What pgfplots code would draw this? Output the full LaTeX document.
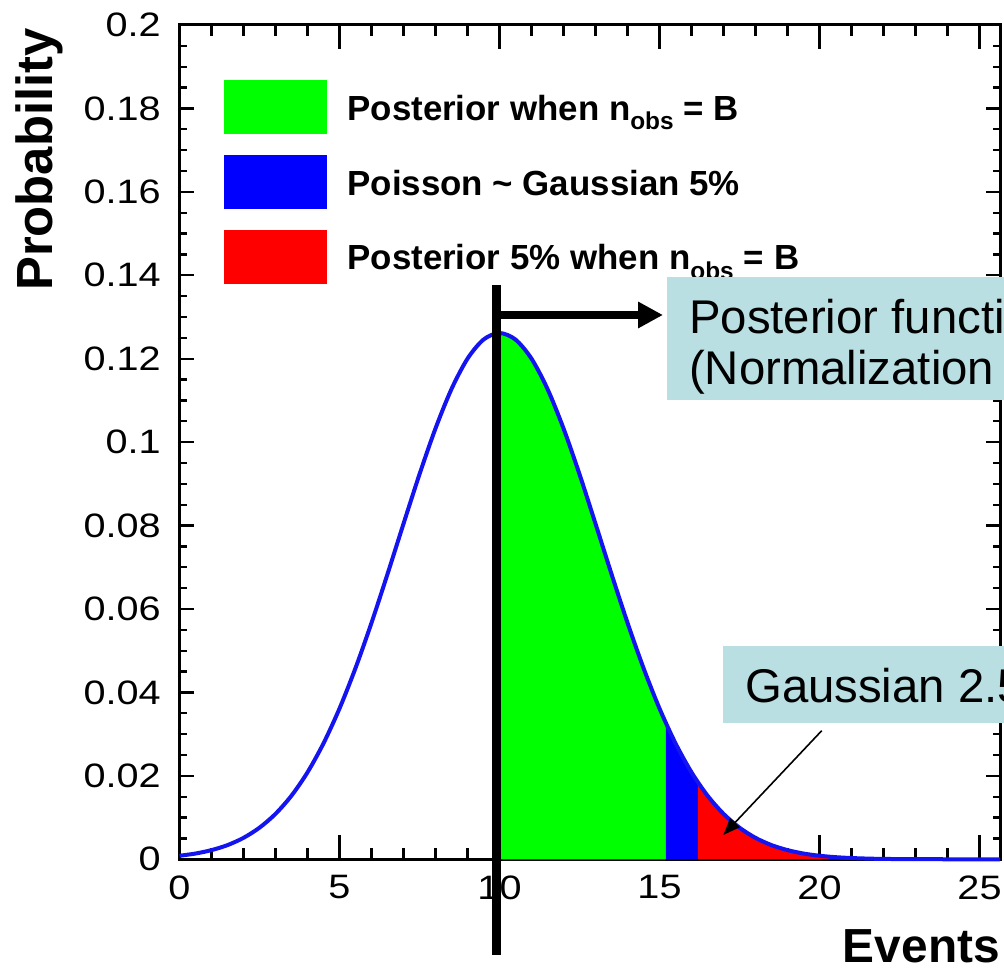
\documentclass[border=0pt]{standalone}
\usepackage{pgfplots}
\pgfplotsset{compat=1.18}
\usepackage{pgfplotstable}
\usetikzlibrary{arrows.meta}
\usepackage{fontspec}
\setmainfont{Liberation Sans}

\definecolor{postgreen}{RGB}{0,255,0}
\definecolor{poisblue}{RGB}{0,0,255}
\definecolor{tailred}{RGB}{255,0,0}
\definecolor{curveblue}{RGB}{20,20,240}
\definecolor{callout}{RGB}{186,223,227}

% posterior probability density for n_obs = B = 10
\pgfplotstableread{
x     y
0     0.00085
0.5   0.00138
1     0.00220
1.5   0.00340
2     0.00514
2.5   0.00758
3     0.01089
3.5   0.01526
4     0.02085
4.5   0.02780
5     0.03615
5.5   0.04584
6     0.05669
6.5   0.06838
7     0.08044
7.5   0.09230
8     0.10329
8.5   0.11274
9     0.12001
9.5   0.12459
10    0.12616
10.5  0.12459
11    0.12001
11.5  0.11274
12    0.10329
12.5  0.09230
13    0.08044
13.5  0.06838
14    0.05669
14.5  0.04584
15    0.03615
15.5  0.02780
16    0.02085
16.5  0.01526
17    0.01089
17.5  0.00758
18    0.00514
18.5  0.00340
19    0.00220
19.5  0.00138
20    0.00085
20.5  0.00051
21    0.00030
21.5  0.00017
22    0.00009
23    0.00003
24    0.00001
25.64 0.00000
}\posterior

% upper part of the posterior, 10 <= x <= 15.2
\pgfplotstableread{
x     y
10.0  0.12616
10.2  0.12591
10.4  0.12515
10.6  0.12391
10.8  0.12219
11.0  0.12001
11.2  0.11740
11.4  0.11438
11.6  0.11100
11.8  0.10729
12.0  0.10329
12.2  0.09904
12.4  0.09459
12.6  0.08998
12.8  0.08525
13.0  0.08044
13.2  0.07561
13.4  0.07078
13.6  0.06599
13.8  0.06129
14.0  0.05669
14.2  0.05222
14.4  0.04792
14.6  0.04379
14.8  0.03987
15.0  0.03615
15.2  0.03264
}\greenpart

% Poisson ~ Gaussian 5% band, 15.2 <= x <= 16.2
\pgfplotstableread{
x     y
15.2  0.03264
15.4  0.02936
15.6  0.02630
15.8  0.02347
16.0  0.02085
16.2  0.01846
}\bluepart

% posterior 5% tail, x >= 16.2
\pgfplotstableread{
x     y
16.2  0.01846
16.4  0.01627
16.6  0.01429
16.8  0.01250
17.0  0.01089
17.2  0.00944
17.4  0.00816
17.6  0.00703
17.8  0.00602
18.0  0.00514
18.4  0.00370
18.8  0.00263
19.2  0.00183
19.6  0.00126
20.0  0.00085
21.0  0.00030
22.0  0.00009
23.0  0.00003
25.64 0.00000
}\redpart

\newcommand\tickfont{\fontsize{34}{34}\selectfont}
\newcommand\notefont{\fontsize{47.5}{47.5}\selectfont}

\begin{document}
\begin{tikzpicture}
% canvas
\path (0bp,0bp) rectangle (1004bp,969bp);

% frame carrying the x ticks (longer ticks)
\begin{axis}[
  at={(179.5bp,109.7bp)}, anchor=south west,
  scale only axis, width=820.5bp, height=834.3bp,
  xmin=0, xmax=25.64, ymin=0, ymax=0.2,
  xtick={0,5,10,15,20,25},
  xticklabels={0,5,10,15,20,25},
  minor x tick num=4,
  ytick=\empty,
  major tick length=24bp, minor tick length=11bp,
  axis line style={line width=3bp},
  tick style={black, line width=2.2bp},
  xticklabel style={font=\tickfont, anchor=north, inner sep=0pt, yshift=-16bp, xscale=1.17},
]
\end{axis}

% main frame: y ticks, filled regions and the posterior curve
\begin{axis}[
  at={(179.5bp,109.7bp)}, anchor=south west,
  scale only axis, width=820.5bp, height=834.3bp,
  xmin=0, xmax=25.64, ymin=0, ymax=0.2,
  clip=false,
  xtick=\empty,
  ytick={0,0.02,0.04,0.06,0.08,0.1,0.12,0.14,0.16,0.18,0.2},
  yticklabels={0,0.02,0.04,0.06,0.08,0.1,0.12,0.14,0.16,0.18,0.2},
  minor y tick num=3,
  major tick length=14bp, minor tick length=7bp,
  axis line style={line width=3bp},
  tick style={black, line width=2.2bp},
  yticklabel style={font=\tickfont, anchor=east, inner sep=0pt, xshift=-18.5bp, xscale=1.17},
  legend style={at={(0.0543,0.934)}, anchor=north west, draw=none, fill=none,
    inner sep=0pt, outer sep=0pt, row sep=21.5bp,
    font=\bfseries\fontsize{35}{35}\selectfont,
    nodes={inner sep=0pt},
    /tikz/every odd column/.append style={column sep=21bp}},
  legend cell align=left,
]
\addplot[fill=postgreen, draw=none, forget plot] table[x=x,y=y] {\greenpart} \closedcycle;
\addplot[fill=poisblue, draw=none, forget plot] table[x=x,y=y] {\bluepart} \closedcycle;
\addplot[fill=tailred, draw=none, forget plot] table[x=x,y=y] {\redpart} \closedcycle;

\addplot[curveblue, line width=4bp, smooth, forget plot] table[x=x,y=y] {\posterior};

\addlegendimage{legend image code/.code={\fill[postgreen] (0bp,-25bp) rectangle (102bp,28bp);}}
\addlegendentry{Posterior when n\textsubscript{obs} = B}
\addlegendimage{legend image code/.code={\fill[poisblue] (0bp,-25bp) rectangle (102bp,28bp);}}
\addlegendentry{Poisson \textasciitilde{} Gaussian 5\%}
\addlegendimage{legend image code/.code={\fill[tailred] (0bp,-25bp) rectangle (102bp,28bp);}}
\addlegendentry{Posterior 5\% when n\textsubscript{obs} = B}
\end{axis}

% axis titles
\node[rotate=90, anchor=base east, inner sep=0pt, font=\bfseries\fontsize{51}{51}\selectfont]
  at (52bp,941bp) {Probability};
\node[anchor=base east, inner sep=0pt, font=\bfseries\fontsize{48}{48}\selectfont]
  at (1000bp,7bp) {Events};

% observed count marker and arrow to the first note
\draw[line width=8.5bp] (496.7bp,684bp) -- (496.7bp,14bp);
\draw[line width=8.5bp, -{Triangle[length=25bp,width=25bp]}] (496.7bp,654bp) -- (663bp,654bp);

% notes, cut at the right edge of the canvas
\begin{scope}[overlay]
\clip (0bp,0bp) rectangle (1004bp,969bp);
\fill[callout] (667bp,569bp) rectangle (1100bp,692bp);
\node[anchor=base west, inner sep=0pt, font=\notefont] at (689bp,635.7bp) {Posterior function};
\node[anchor=base west, inner sep=0pt, font=\notefont] at (689bp,584bp) {(Normalization = 1)};
\fill[callout] (723bp,246bp) rectangle (1100bp,323bp);
\node[anchor=base west, inner sep=0pt, font=\notefont] at (745bp,266bp) {Gaussian 2.5\%};
\end{scope}
\draw[line width=1.6bp, -{Triangle[length=17bp,width=13bp]}] (821.7bp,238.3bp) -- (723.3bp,134bp);
\end{tikzpicture}
\end{document}
